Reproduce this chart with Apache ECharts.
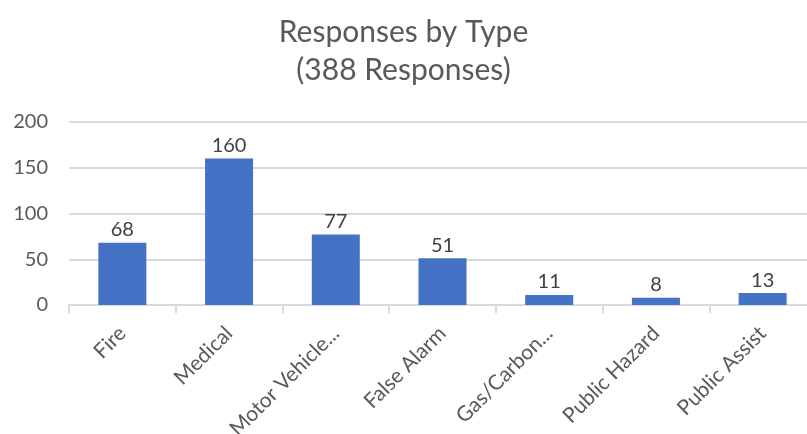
<!DOCTYPE html>
<html>
<head>
<meta charset="utf-8">
<script src="https://cdn.jsdelivr.net/npm/echarts@6/dist/echarts.min.js"></script>
<style>
  html, body { margin: 0; padding: 0; background: #fff; }
  #chart { width: 807px; height: 434px; }
</style>
</head>
<body>
<div id="chart"></div>
<script>
// categories as shown (truncated like the original)
const categories = ['Fire', 'Medical', 'Motor Vehicle...', 'False Alarm', 'Gas/Carbon...', 'Public Hazard', 'Public Assist'];
const responses = [68, 160, 77, 51, 11, 8, 13];
const yTicks = { min: 0, max: 200, interval: 50 };

const chart = echarts.init(document.getElementById('chart'));

const font = 'Lato, "Open Sans", sans-serif';

const option = {
  animation: false,
  title: {
    text: 'Responses by Type\n(388 Responses)',
    left: 'center',
    top: 8,
    textStyle: {
      fontFamily: font,
      fontSize: 30,
      fontWeight: 'normal',
      lineHeight: 38,
      color: '#595959'
    }
  },
  grid: {
    left: 69,
    top: 122,
    width: 747,
    height: 183,
    outerBoundsMode: 'none'
  },
  xAxis: {
    type: 'category',
    data: categories,
    axisLine: { lineStyle: { color: '#d9d9d9', width: 2 } },
    axisTick: { show: true, length: 8, lineStyle: { color: '#d9d9d9', width: 2 } },
    axisLabel: {
      rotate: 45,
      interval: 0,
      margin: 25,
      fontFamily: font,
      fontSize: 21,
      color: '#595959'
    }
  },
  yAxis: {
    type: 'value',
    min: yTicks.min,
    max: yTicks.max,
    interval: yTicks.interval,
    axisLine: { show: false },
    axisTick: { show: false },
    splitLine: { lineStyle: { color: '#d9d9d9', width: 2 } },
    axisLabel: {
      margin: 21,
      fontFamily: font,
      fontSize: 20,
      color: '#595959'
    }
  },
  series: [
    {
      type: 'bar',
      data: responses,
      barWidth: 48,
      itemStyle: { color: '#4472c4' },
      label: {
        show: true,
        position: 'top',
        distance: 3,
        fontFamily: font,
        fontSize: 20,
        color: '#404040'
      }
    }
  ]
};

chart.setOption(option);
</script>
</body>
</html>
